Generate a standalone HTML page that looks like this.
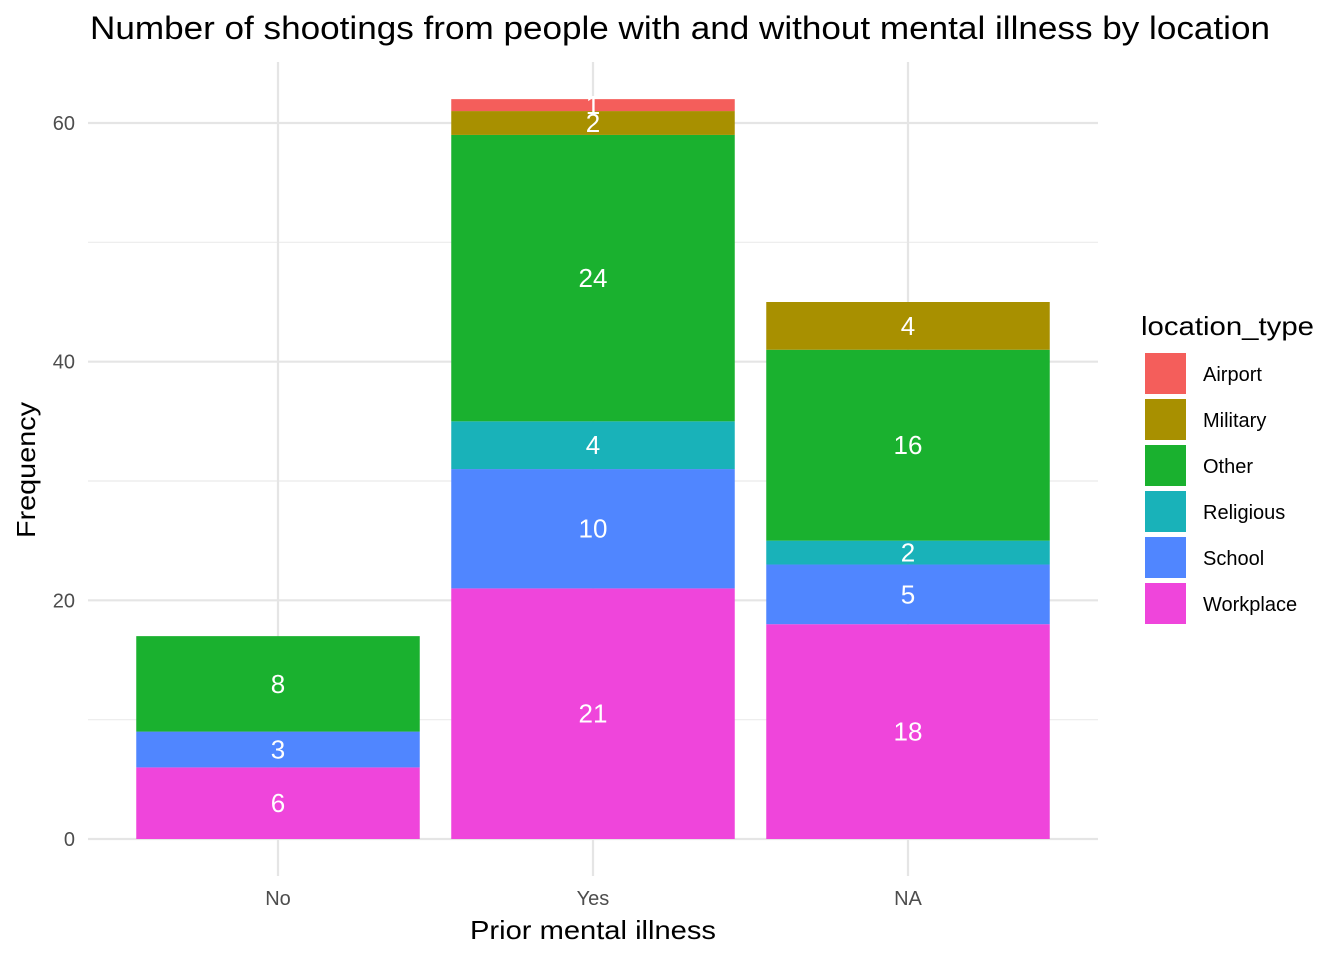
<!DOCTYPE html>
<html><head><meta charset="utf-8"><style>
body{margin:0;background:#fff;font-family:"Liberation Sans",Arial,sans-serif}
</style></head><body>
<svg id="chart" width="1344" height="960" xmlns="http://www.w3.org/2000/svg">
<g id="grid"></g><g id="bars"></g><g id="axes"></g><g id="legend"></g>
<text x="680" y="39" font-size="32" textLength="1180" lengthAdjust="spacingAndGlyphs" text-anchor="middle" fill="#000">Number of shootings from people with and without mental illness by location</text>
<text x="593" y="939" font-size="26" textLength="246" lengthAdjust="spacingAndGlyphs" text-anchor="middle" fill="#000">Prior mental illness</text>
<text transform="translate(35,470) rotate(-90)" font-size="26" textLength="136" lengthAdjust="spacingAndGlyphs" text-anchor="middle" fill="#000">Frequency</text>
</svg>
<script>
const categories = ["No","Yes","NA"];
const locTypes = ["Airport","Military","Other","Religious","School","Workplace"];
const colors = ["#F45E5B","#A89000","#1AB12F","#19B2B9","#5086FF","#EF45DB"];
const airport = [0,1,0];
const military = [0,2,4];
const other = [8,24,16];
const religious = [0,4,2];
const school = [3,10,5];
const workplace = [6,21,18];
const yTicks = [0,20,40,60];
const yMinor = [10,30,50];
const series = [airport,military,other,religious,school,workplace];
(function(){
const NS="http://www.w3.org/2000/svg";
const y0=839, yUnit=716/60;
const yS=v=>y0-v*yUnit;
const xS=i=>278+i*315;
const bw=283.5, pL=88, pR=1098, pT=62, pB=876;
function mk(tag,attrs,parent){const e=document.createElementNS(NS,tag);for(const k in attrs)e.setAttribute(k,attrs[k]);parent.appendChild(e);return e;}
const grid=document.getElementById('grid'),bars=document.getElementById('bars'),axes=document.getElementById('axes'),legend=document.getElementById('legend');
yMinor.forEach(v=>{const l=mk('line',{x1:pL,x2:pR,y1:yS(v),y2:yS(v),stroke:'#ebebeb','stroke-width':1.2},grid);

});
yTicks.forEach(v=>{const l=mk('line',{x1:pL,x2:pR,y1:yS(v),y2:yS(v),stroke:'#e5e5e5','stroke-width':2.2},grid);


const t=mk('text',{x:75,y:yS(v)+7,'font-size':20,'text-anchor':'end',fill:'#4d4d4d'},axes);t.textContent=v;

});
categories.forEach((c,i)=>{const l=mk('line',{x1:xS(i),x2:xS(i),y1:pT,y2:pB,stroke:'#e5e5e5','stroke-width':2.2},grid);


const t=mk('text',{x:xS(i),y:905,'font-size':20,'text-anchor':'middle',fill:'#4d4d4d'},axes);t.textContent=c;


let cum=0;
for(let s=series.length-1;s>=0;s--){const v=series[s][i];if(!v)continue;
const r=mk('rect',{x:xS(i)-bw/2,y:yS(cum+v),width:bw,height:v*yUnit,fill:colors[s]},bars);


const t2=mk('text',{x:xS(i),y:yS(cum+v/2)+9,'font-size':26,'text-anchor':'middle',fill:'#fff'},bars);t2.textContent=v;


cum+=v;}
});
const lt=mk('text',{x:1141,y:335,'font-size':26,textLength:173,lengthAdjust:'spacingAndGlyphs',fill:'#000'},legend);lt.textContent='location_type';


locTypes.forEach((n,k)=>{const y=353+k*46;
const r=mk('rect',{x:1145,y:y,width:41,height:41,fill:colors[k]},legend);


const t=mk('text',{x:1203,y:y+28,'font-size':20,fill:'#000'},legend);t.textContent=n;

});
})();
</script>
</body></html>
